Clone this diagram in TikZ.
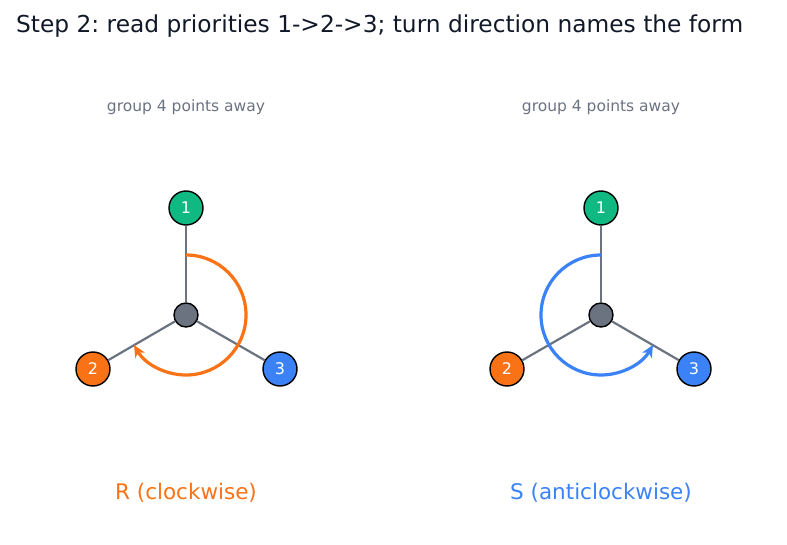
\documentclass[tikz,border=0pt]{standalone}
\usepackage{fontspec}
\setmainfont{DejaVu Sans}
\frenchspacing
\usetikzlibrary{arrows.meta,calc}
\definecolor{cgreen}{HTML}{10B981}
\definecolor{corange}{HTML}{F97316}
\definecolor{cblue}{HTML}{3B82F6}
\definecolor{cgray}{HTML}{6B7280}
\definecolor{ctitle}{HTML}{111827}
\tikzset{
  atom/.style={circle,draw=black,line width=1.4pt,minimum size=34pt,inner sep=0pt,text=white,font=\fontsize{16}{18}\selectfont},
  hub/.style={circle,draw=black,line width=1.4pt,fill=cgray,minimum size=24pt,inner sep=0pt},
  bond/.style={draw=cgray,line width=2.2pt},
  turn/.style={line width=3.2pt,-{Stealth[length=12pt,width=11pt,inset=3.5pt]}},
  note/.style={text=cgray,font=\fontsize{15.5}{18}\selectfont},
  verdict/.style={font=\fontsize{21.5}{25}\selectfont},
}
\begin{document}
\begin{tikzpicture}[x=1pt,y=-1pt]
\useasboundingbox (0,0) rectangle (787,545);
\node[anchor=west,inner sep=0pt,text=ctitle,font=\fontsize{23.3}{27}\selectfont] (title) at (16,26) {Step 2: read priorities 1->2->3; turn direction names the form};
% left panel
\node[note] (nl) at (186,107) {group 4 points away};
\node[hub] (cl) at (186,315) {};
\node[atom,fill=cgreen] (l1) at (186,208) {1};
\node[atom,fill=corange] (l2) at (93,369) {2};
\node[atom,fill=cblue] (l3) at (280,369) {3};
\draw[bond] (cl) -- (l1);
\draw[bond] (cl) -- (l2);
\draw[bond] (cl) -- (l3);
\coordinate (al) at ($(cl)+(0,-60)$);
\draw[turn,corange] (al) arc[start angle=-90,end angle=150,radius=60];
\node[verdict,text=corange] (vl) at (186,493) {R (clockwise)};
% right panel
\node[note] (nr) at (601,107) {group 4 points away};
\node[hub] (cr) at (601,315) {};
\node[atom,fill=cgreen] (r1) at (601,208) {1};
\node[atom,fill=corange] (r2) at (507,369) {2};
\node[atom,fill=cblue] (r3) at (694,369) {3};
\draw[bond] (cr) -- (r1);
\draw[bond] (cr) -- (r2);
\draw[bond] (cr) -- (r3);
\coordinate (ar) at ($(cr)+(0,-60)$);
\draw[turn,cblue] (ar) arc[start angle=-90,end angle=-330,radius=60];
\node[verdict,text=cblue] (vr) at (601,493) {S (anticlockwise)};
\end{tikzpicture}
\end{document}
